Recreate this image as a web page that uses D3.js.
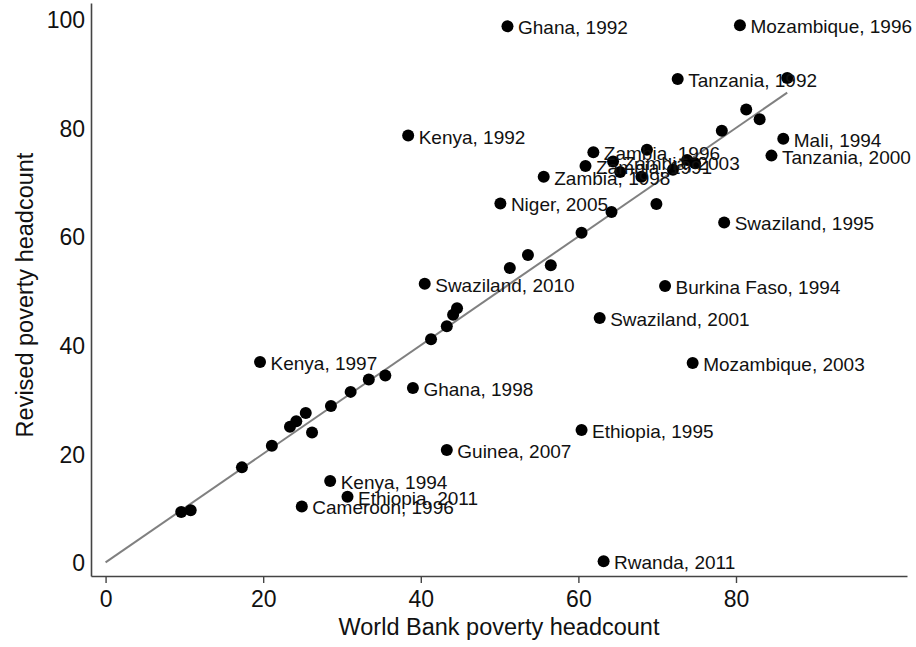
<!DOCTYPE html>
<html>
<head>
<meta charset="utf-8">
<script src="https://cdn.jsdelivr.net/npm/d3@7"></script>
<style>
  html, body { margin: 0; padding: 0; background: #fff; }
  svg { display: block; font-family: "Liberation Sans", Arial, Helvetica, sans-serif; }
</style>
</head>
<body>
<svg id="chart" width="916" height="647"></svg>
<script>
// Labeled observations
const labelNames = [
  "Ghana, 1992", "Mozambique, 1996", "Tanzania, 1992", "Kenya, 1992", "Mali, 1994",
  "Tanzania, 2000", "Zambia, 1996", "Zambia, 1991", "Zambia, 2003", "Zambia, 1998",
  "Niger, 2005", "Swaziland, 1995", "Swaziland, 2010", "Burkina Faso, 1994", "Swaziland, 2001",
  "Mozambique, 2003", "Kenya, 1997", "Ghana, 1998", "Ethiopia, 1995", "Guinea, 2007",
  "Kenya, 1994", "Ethiopia, 2011", "Cameroon, 1996", "Rwanda, 2011"
];
const labelWB = [
  51.0, 80.5, 72.6, 38.4, 86.0,
  84.5, 61.9, 60.9, 64.4, 55.6,
  50.1, 78.5, 40.5, 71.0, 62.7,
  74.5, 19.6, 39.0, 60.4, 43.3,
  28.5, 30.7, 24.9, 63.2
];
const labelRev = [
  98.7, 98.9, 89.0, 78.6, 78.0,
  74.9, 75.5, 73.0, 73.8, 71.0,
  66.1, 62.6, 51.3, 50.9, 45.0,
  36.7, 36.9, 32.1, 24.4, 20.7,
  15.0, 12.1, 10.3, 0.2
];
// Unlabeled observations
const otherWB = [
  86.5, 81.3, 83.0, 78.2, 68.7, 73.8, 74.8, 72.0, 65.3, 68.0,
  69.9, 64.2, 60.4, 53.6, 56.5, 51.3, 44.6, 44.1, 43.3, 41.3,
  35.5, 33.4, 31.1, 28.6, 25.4, 24.2, 23.4, 26.2, 21.1, 17.3,
  9.6, 10.8
];
const otherRev = [
  89.2, 83.4, 81.6, 79.5, 76.0, 74.1, 73.5, 72.3, 71.9, 71.0,
  66.0, 64.5, 60.7, 56.6, 54.7, 54.2, 46.8, 45.6, 43.5, 41.1,
  34.4, 33.7, 31.4, 28.8, 27.5, 26.0, 25.0, 23.9, 21.5, 17.5,
  9.3, 9.6
];
const xTicks = [0, 20, 40, 60, 80];
const yTicks = [0, 20, 40, 60, 80, 100];
const xTitle = "World Bank poverty headcount";
const yTitle = "Revised poverty headcount";

const svg = d3.select("#chart");
const x = d3.scaleLinear().domain([-1.85, 101.7]).range([91, 907]);
const y = d3.scaleLinear().domain([-2.5, 103]).range([576, 3]);

const axisColor = "#444";

// x axis
const gx = svg.append("g").attr("transform", "translate(0,576)");
gx.call(d3.axisBottom(x).tickValues(xTicks).tickSize(7).tickPadding(8).tickSizeOuter(0));
gx.select(".domain").attr("stroke", axisColor).attr("stroke-width", 1.6);
gx.selectAll(".tick line").attr("stroke", axisColor).attr("stroke-width", 1.4);
gx.selectAll(".tick text").attr("font-size", 23).attr("fill", "#111")
  .attr("font-family", "Liberation Sans, Arial, sans-serif");

// y axis (no tick marks)
const gy = svg.append("g").attr("transform", "translate(91,0)");
gy.call(d3.axisLeft(y).tickValues(yTicks).tickSize(0).tickPadding(6).tickSizeOuter(0));
gy.select(".domain").attr("stroke", axisColor).attr("stroke-width", 1.6);
gy.selectAll(".tick text").attr("font-size", 23).attr("fill", "#111").attr("dy", "0.36em")
  .attr("font-family", "Liberation Sans, Arial, sans-serif");

// titles
svg.append("text").attr("x", (x.range()[0] + x.range()[1]) / 2).attr("y", 635)
  .attr("text-anchor", "middle").attr("font-size", 23.5).attr("fill", "#111").text(xTitle);
svg.append("text").attr("transform", "translate(33,295) rotate(-90)")
  .attr("text-anchor", "middle").attr("font-size", 23.5).attr("fill", "#111").text(yTitle);

// 45-degree reference line from 0 to data max
const allX = labelWB.concat(otherWB);
const xmax = d3.max(allX);
const lineData = [0, xmax];
svg.append("path")
  .datum(lineData)
  .attr("d", d3.line().x(d => x(d)).y(d => y(d)))
  .attr("stroke", "#808080").attr("stroke-width", 2).attr("fill", "none");

// unlabeled points
svg.append("g").selectAll("circle")
  .data(otherWB.map((v, i) => [v, otherRev[i]]))
  .join("circle")
  .attr("cx", d => x(d[0])).attr("cy", d => y(d[1])).attr("r", 6).attr("fill", "#000");

// labeled points
const lab = labelNames.map((n, i) => ({ n, wb: labelWB[i], rev: labelRev[i] }));
svg.append("g").selectAll("circle")
  .data(lab).join("circle")
  .attr("cx", d => x(d.wb)).attr("cy", d => y(d.rev)).attr("r", 6).attr("fill", "#000");
svg.append("g").selectAll("text")
  .data(lab).join("text")
  .attr("x", d => x(d.wb) + 10.5).attr("y", d => y(d.rev) + 8)
  .attr("font-size", 19).attr("fill", "#111").text(d => d.n);
</script>
</body>
</html>
